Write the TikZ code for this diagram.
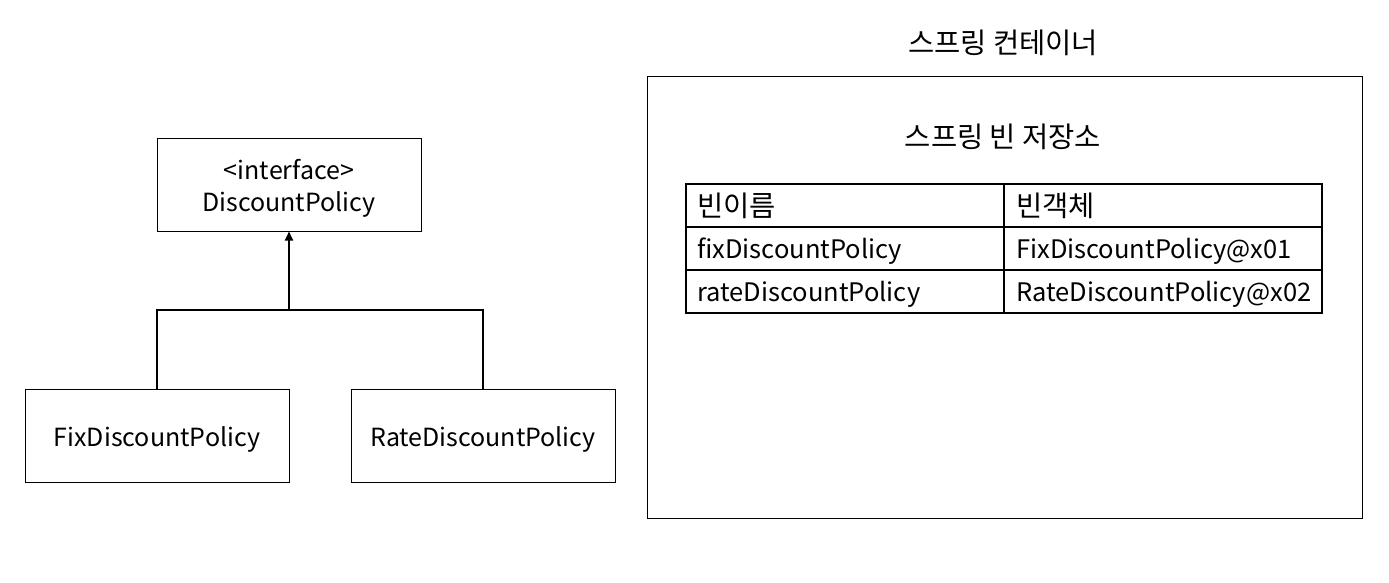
\documentclass[tikz,border=0pt]{standalone}
\usepackage{fontspec}
\setmainfont{Noto Sans CJK KR}
\usetikzlibrary{arrows.meta,positioning}
\tikzset{
  cls/.style={draw,line width=1pt,minimum width=264pt,minimum height=93pt,inner sep=0pt,align=center,font=\fontsize{25}{32}\selectfont,text height=26pt,text depth=4pt},
  cell/.style={inner sep=0pt,anchor=west,font=\fontsize{25.5}{28}\selectfont,text height=22pt,text depth=2pt},
  kcell/.style={inner sep=0pt,anchor=west,font=\fontsize{28.5}{30}\selectfont},
  lbl/.style={font=\fontsize{28.5}{30}\selectfont},
  conn/.style={line width=2pt},
}
\begin{document}
\begin{tikzpicture}[x=1pt,y=-1pt]
		\useasboundingbox[fill=white] (0,0) rectangle (1389,582);
		% class diagram
		\node[cls,text height=59pt,text depth=5pt] (dp) at (289,184.5) {<interface>\\DiscountPolicy};
		\node[cls] (fix) at (157,435.5) {FixDiscountPolicy};
		\node[cls] (rate) at (483,435.5) {RateDiscountPolicy};
		\coordinate (j) at (289,310);
		\draw[conn] (fix.north) |- (j) -| (rate.north);
		\draw[conn,-{Triangle[length=9pt,width=8pt]}] (j) to (dp.south);
		% spring container
		\node[lbl] (ctitle) at (1003,43) {스프링 컨테이너};
		\draw[line width=1pt] (647,76) rectangle (1362,518);
		\node[lbl] (stitle) at (1003,137) {스프링 빈 저장소};
		\draw[line width=1.5pt] (686,184) rectangle (1322,313);
		\draw[line width=1.5pt] (686,227) to (1322,227);
		\draw[line width=1.5pt] (686,270) to (1322,270);
		\draw[line width=1.5pt] (1004,184) to (1004,313);
		\node[kcell] (h1) at (697,206) {빈이름};
		\node[kcell] (h2) at (1016,206) {빈객체};
		\node[cell] (n1) at (697,248.5) {fixDiscountPolicy};
		\node[cell] (o1) at (1016,248.5) {FixDiscountPolicy@x01};
		\node[cell] (n2) at (697,291.5) {rateDiscountPolicy};
		\node[cell] (o2) at (1016,291.5) {RateDiscountPolicy@x02};
	\end{tikzpicture}
\end{document}
